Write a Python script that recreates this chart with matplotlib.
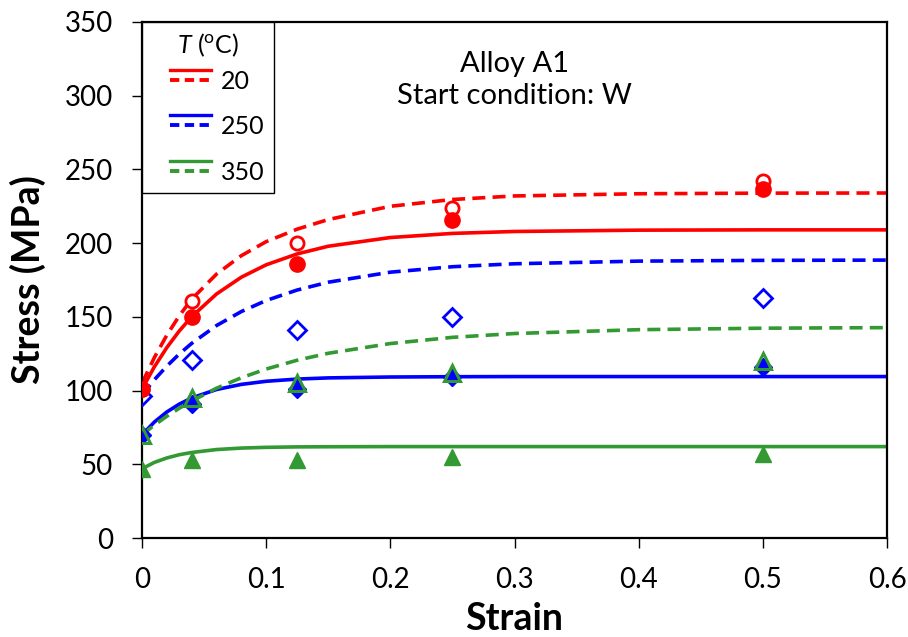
import matplotlib
matplotlib.use("Agg")
import matplotlib.pyplot as plt
from matplotlib.lines import Line2D

plt.rcParams['font.family'] = ['Lato', 'DejaVu Sans']
plt.rcParams['mathtext.fontset'] = 'custom'
plt.rcParams['mathtext.rm'] = 'Lato'
plt.rcParams['mathtext.it'] = 'Lato:italic'

# measured points (strain, stress in MPa)
strain_pts = [0, 0.04, 0.125, 0.25, 0.5]
s20_solid_pts = [101, 150, 186, 216, 237]
s20_dash_pts = [101, 161, 200, 224, 242]
s250_solid_pts = [70, 91, 101, 109, 116]
s250_dash_pts = [96, 121, 141, 150, 163]
s350_solid_pts = [47, 53, 53, 55, 57]
s350_dash_pts = [70, 95, 105, 112, 120]

# model curves
strain_fit = [0, 0.01, 0.02, 0.03, 0.04, 0.06, 0.08, 0.1, 0.125, 0.15, 0.2, 0.25, 0.3, 0.4, 0.5, 0.6]
s20_solid_fit = [101, 116.2, 129.2, 140.4, 150.1, 165.5, 176.9, 185.3, 192.7, 197.9, 203.8, 206.6, 207.9, 208.8, 209.0, 209.0]
s20_dash_fit = [105, 122.5, 137.6, 150.7, 162.0, 179.0, 191.5, 201.0, 209.5, 216.0, 225.0, 229.6, 232.0, 233.5, 233.9, 234.0]
s250_solid_fit = [70, 78.7, 85.5, 90.8, 95.0, 100.7, 104.2, 106.3, 107.8, 108.6, 109.2, 109.4, 109.5, 109.5, 109.5, 109.5]
s250_dash_fit = [97, 107.4, 116.6, 124.8, 132.0, 144.1, 153.6, 161.1, 168.2, 173.5, 180.3, 184.0, 186.0, 187.8, 188.3, 188.5]
s350_solid_fit = [47, 51.3, 54.3, 56.5, 58.0, 60.0, 61.0, 61.5, 61.8, 61.9, 62.0, 62.0, 62.0, 62.0, 62.0, 62.0]
s350_dash_fit = [70, 76.6, 82.6, 88.0, 92.9, 101.6, 108.7, 114.6, 120.6, 125.3, 131.9, 136.1, 138.7, 141.3, 142.3, 142.7]

temps = ['20', '250', '350']
red = '#FF0000'
blue = '#0000FF'
green = '#339933'

lw = 2.6
dash = (0, (3.6, 2.0))


class TwoLineHandler:
    # solid line above dashed line, drawn in the right part of the handle box
    def legend_artist(self, legend, orig_handle, fontsize, handlebox):
        x0, y0 = handlebox.xdescent, handlebox.ydescent
        w, h = handlebox.width, handlebox.height
        solid, dashed = orig_handle
        xs = [x0 + w - 29, x0 + w]
        l1 = Line2D(xs, [y0 + h * 0.5 + 7.5] * 2, color=solid.get_color(), lw=2.4)
        l2 = Line2D(xs, [y0 + h * 0.5] * 2, color=dashed.get_color(), lw=2.8,
                    linestyle=(0, (2.4, 1.4)))
        handlebox.add_artist(l1)
        handlebox.add_artist(l2)
        return l1


fig = plt.figure(figsize=(9.08, 6.37), dpi=100)
ax = fig.add_axes([0.1564, 0.1554, 0.8205, 0.8101])

h20s, = ax.plot(strain_fit, s20_solid_fit, color=red, lw=lw)
h20d, = ax.plot(strain_fit, s20_dash_fit, color=red, lw=lw, linestyle=dash)
h250s, = ax.plot(strain_fit, s250_solid_fit, color=blue, lw=lw)
h250d, = ax.plot(strain_fit, s250_dash_fit, color=blue, lw=lw, linestyle=dash)
h350s, = ax.plot(strain_fit, s350_solid_fit, color=green, lw=lw)
h350d, = ax.plot(strain_fit, s350_dash_fit, color=green, lw=lw, linestyle=dash)

ax.plot(strain_pts, s20_dash_pts, 'o', ms=9.5, mfc='white', mec=red, mew=2, zorder=4)
ax.plot(strain_pts, s20_solid_pts, 'o', ms=11, color=red, zorder=5)
ax.plot(strain_pts, s250_dash_pts, 'D', ms=9.5, mfc='none', mec=blue, mew=2, zorder=4)
ax.plot(strain_pts, s250_solid_pts, 'D', ms=9, color=blue, zorder=4)
ax.plot(strain_pts, s350_dash_pts, '^', ms=12, mfc='none', mec=green, mew=2.2, zorder=5)
ax.plot(strain_pts, s350_solid_pts, '^', ms=11.5, color=green, zorder=5)

ax.set_xlim(0, 0.6)
ax.set_ylim(0, 350)
ax.set_xticks([0, 0.1, 0.2, 0.3, 0.4, 0.5, 0.6])
ax.set_xticklabels(['0', '0.1', '0.2', '0.3', '0.4', '0.5', '0.6'])
ax.set_yticks(range(0, 351, 50))
ax.tick_params(labelsize=20, direction='out', length=7, width=1, pad=14)
for s in ax.spines.values():
    s.set_linewidth(1.6)
    s.set_color('black')

ax.set_xlabel('Strain', fontsize=27, fontweight='bold', labelpad=6)
ax.set_ylabel('Stress (MPa)', fontsize=27, fontweight='bold', labelpad=13)

ax.text(0.5, 0.888, 'Alloy A1\nStart condition: W', transform=ax.transAxes,
        ha='center', va='center', fontsize=21, linespacing=1.3)

leg = ax.legend([(h20s, h20d), (h250s, h250d), (h350s, h350d)], temps,
                handler_map={tuple: TwoLineHandler()}, loc='upper left',
                borderaxespad=0, fancybox=False, edgecolor='black', fontsize=18,
                title='$T$ ($^{\\rm o}$C)', title_fontsize=18, handlelength=2.38,
                labelspacing=0.9, handletextpad=0.4, borderpad=0.37, framealpha=1)
leg.get_frame().set_linewidth(1.0)
# tighter gap between the title and the first entry
leg._legend_box.sep = 8

fig.savefig('out.png', dpi=100)
